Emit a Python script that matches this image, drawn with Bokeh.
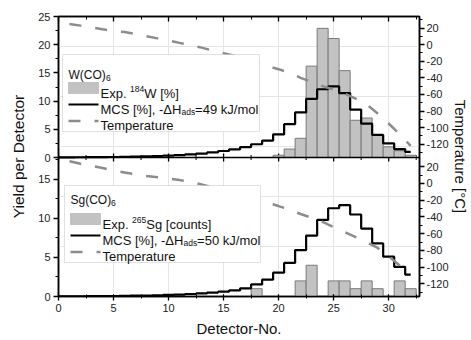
import numpy as np
from bokeh.plotting import figure
from bokeh.models import (Range1d, LinearAxis, SingleIntervalTicker, FixedTicker,
                          CustomJSTickFormatter, Label, BoxAnnotation, Arrow, Span)
from bokeh.embed import file_html
from bokeh.resources import INLINE

# ---------------- data ----------------
detectors = list(range(0, 33))
temp_detectors = list(range(1, 33))

w_exp_det = [19, 20, 21, 22, 23, 24, 25, 26, 27, 28, 29, 30, 31, 32]
w_exp = [0, 0.4, 1.5, 3.4, 16.2, 22.9, 21.1, 15.4, 6.6, 7.0, 4.0, 1.9, 1.2, 0.4]
w_mcs = [0.02, 0.03, 0.04, 0.05, 0.07, 0.09, 0.12, 0.15, 0.2, 0.26, 0.33, 0.43, 0.55,
         0.7, 0.9, 1.15, 1.45, 1.85, 2.35, 3.0, 4.1, 5.9, 8.0, 10.4, 12.1, 12.6, 11.4,
         8.5, 6.0, 4.0, 2.5, 1.5, 1.0]
w_temp = [25, 23, 20.8, 18.5, 16.8, 15.2, 12.8, 10.2, 7.6, 5, 2.2, -0.5, -3.5, -7,
          -10.3, -13.5, -17, -20.5, -26, -29.5, -34, -40, -45, -50, -54, -59, -65,
          -72, -83, -95, -108, -122]

sg_exp_det = [18, 22, 23, 25, 26, 27, 28, 29, 31, 32]
sg_exp = [1, 2, 4, 2, 2, 1, 2, 1, 2, 1]
sg_mcs = [0.02, 0.02, 0.03, 0.04, 0.05, 0.06, 0.08, 0.1, 0.13, 0.16, 0.2, 0.25, 0.32,
          0.4, 0.5, 0.62, 0.78, 1.05, 1.55, 2.15, 3.05, 4.3, 5.95, 7.8, 9.8, 11.3, 11.7,
          10.5, 8.7, 6.8, 5.1, 3.8, 2.8]
sg_temp = [26.5, 23.5, 21, 18.5, 15.5, 13, 11, 9, 7.5, 5.8, 4, 1.8, -1.2, -4.5, -8,
           -11.5, -15, -19, -23, -27, -31.5, -36.5, -41, -46, -52, -58, -64, -70, -77,
           -87, -98, -108]

# axis ranges of the two panels
x_max = 32.8
top_yield_max = 25
bot_yield_max = 17.8
top_temp_range = (-136, 34)
bot_temp_range = (-135, 31)
yield_ticks_top = [0, 5, 10, 15, 20, 25]
yield_ticks_bot = [0, 5, 10, 15]
temp_ticks = [-120, -100, -80, -60, -40, -20, 0, 20]

# ---------------- layout constants ----------------
FONT = "Liberation Sans"
BAR_FILL = "#c2c2c2"
BAR_LINE = "#7a7a7a"
TEMP_COLOR = "#8c8c8c"
DASH = "12 14"
W, H = 471, 340
LEFT, RIGHT, TOP, BOTTOM = 58, 46, 16, 44
FRAME_H = H - TOP - BOTTOM          # 280
SPLIT = 139                         # px of bottom panel (from frame bottom)
TOP_H = FRAME_H - SPLIT             # px of top panel

k_top = TOP_H / top_yield_max
k_bot = SPLIT / bot_yield_max
kT_top = TOP_H / (top_temp_range[1] - top_temp_range[0])
kT_bot = SPLIT / (bot_temp_range[1] - bot_temp_range[0])

p = figure(width=W, height=H, x_range=Range1d(0, x_max), y_range=Range1d(0, FRAME_H),
           output_backend="svg", toolbar_location=None,
           x_axis_location=None, y_axis_location=None,
           min_border_left=LEFT, min_border_right=RIGHT,
           min_border_top=TOP, min_border_bottom=BOTTOM)
p.extra_y_ranges = {
    "wy": Range1d(-SPLIT / k_top, top_yield_max),
    "sy": Range1d(0, FRAME_H / k_bot),
    "wt": Range1d(top_temp_range[0] - SPLIT / kT_top, top_temp_range[1]),
    "st": Range1d(bot_temp_range[0], bot_temp_range[0] + FRAME_H / kT_bot),
}
p.outline_line_color = "black"
p.outline_line_width = 1.5
p.background_fill_color = "white"
p.border_fill_color = "white"


def style_axis(ax, labels=True):
    ax.axis_line_width = 1.5
    ax.major_tick_line_width = 1.3
    ax.minor_tick_line_width = 1.0
    ax.major_label_text_font = FONT
    ax.major_label_text_font_size = "11px" if labels else "0px"
    ax.major_label_text_color = "#222222"
    ax.axis_label_text_font = FONT
    ax.axis_label_text_font_style = "normal"
    ax.axis_label_text_color = "#111111"


# x axes
ax_top = LinearAxis(ticker=SingleIntervalTicker(interval=5, num_minor_ticks=2),
                    formatter=CustomJSTickFormatter(code="return ''"))
style_axis(ax_top, labels=False)
ax_top.major_tick_in, ax_top.major_tick_out = 5, 0
ax_top.minor_tick_in, ax_top.minor_tick_out = 3, 0
ax_top.major_label_standoff = 0
p.add_layout(ax_top, "above")

ax_bot = LinearAxis(ticker=SingleIntervalTicker(interval=5, num_minor_ticks=2))
style_axis(ax_bot)
ax_bot.major_tick_in, ax_bot.major_tick_out = 2, 4
ax_bot.minor_tick_in, ax_bot.minor_tick_out = 2, 2
ax_bot.major_label_standoff = 3
ax_bot.axis_label = "Detector-No."
ax_bot.axis_label_text_font_size = "15px"
ax_bot.axis_label_standoff = 5
p.add_layout(ax_bot, "below")

# left (yield) axis covering both panels
left_major = [SPLIT + v * k_top for v in yield_ticks_top] + [v * k_bot for v in yield_ticks_bot]
left_minor = ([SPLIT + (v + 2.5) * k_top for v in yield_ticks_top[:-1]] +
              [(v + 2.5) * k_bot for v in yield_ticks_bot])
ax_l = LinearAxis(ticker=FixedTicker(ticks=left_major, minor_ticks=left_minor),
                  formatter=CustomJSTickFormatter(
                      args=dict(s=SPLIT, kt=k_top, kb=k_bot),
                      code="const v = tick >= s - 0.01 ? (tick - s) / kt : tick / kb;"
                           "return Math.round(v).toString();"))
style_axis(ax_l)
ax_l.major_tick_in, ax_l.major_tick_out = 0, 5
ax_l.minor_tick_in, ax_l.minor_tick_out = 0, 3
ax_l.major_label_standoff = 3
ax_l.axis_label = "Yield per Detector"
ax_l.axis_label_text_font_size = "15.5px"
ax_l.axis_label_standoff = 8
p.add_layout(ax_l, "left")

# right (temperature) axis covering both panels
right_major = ([SPLIT + (t - top_temp_range[0]) * kT_top for t in temp_ticks] +
               [(t - bot_temp_range[0]) * kT_bot for t in temp_ticks])
right_minor = ([SPLIT + (t - 10 - top_temp_range[0]) * kT_top for t in temp_ticks + [40]] +
               [(t - 10 - bot_temp_range[0]) * kT_bot for t in temp_ticks + [40]])
right_minor = [m for m in right_minor if 0 < m < FRAME_H and abs(m - SPLIT) > 2]
ax_r = LinearAxis(ticker=FixedTicker(ticks=right_major, minor_ticks=right_minor),
                  formatter=CustomJSTickFormatter(
                      args=dict(s=SPLIT, kt=kT_top, kb=kT_bot,
                                t0=top_temp_range[0], b0=bot_temp_range[0]),
                      code="const v = tick >= s - 0.01 ? (tick - s) / kt + t0 : tick / kb + b0;"
                           "return Math.round(v).toString();"))
style_axis(ax_r)
ax_r.major_tick_in, ax_r.major_tick_out = 0, 5
ax_r.minor_tick_in, ax_r.minor_tick_out = 0, 3
ax_r.major_label_standoff = 2
ax_r.axis_label = "Temperature [\u00b0C]"
ax_r.axis_label_text_font_size = "15px"
ax_r.axis_label_standoff = 0
p.add_layout(ax_r, "right")

# separator between the panels, with its ticks
p.add_layout(Span(location=SPLIT, dimension="width", line_color="black", line_width=1.5))
sep_major = np.arange(0, x_max, 5.0)
sep_minor = np.arange(2.5, x_max, 5.0)
p.segment(x0=sep_major, x1=sep_major, y0=SPLIT - 4, y1=SPLIT + 4, line_color="black",
          line_width=1.3)
p.segment(x0=sep_minor, x1=sep_minor, y0=SPLIT - 2.5, y1=SPLIT + 2.5, line_color="black",
          line_width=1.0)


def add_data(exp_det, exp_vals, mcs, temp, yname, tname):
    xs = [d for d, v in zip(exp_det, exp_vals) if v > 0]
    vs = [v for v in exp_vals if v > 0]
    p.vbar(x=xs, top=vs, bottom=0, width=1.0, fill_color=BAR_FILL, line_color=BAR_LINE,
           line_width=1, y_range_name=yname)
    p.step(x=detectors, y=mcs, mode="center", line_color="black", line_width=2.2,
           y_range_name=yname)
    p.line(x=temp_detectors, y=temp, y_range_name=tname, line_color=TEMP_COLOR,
           line_width=2.5, line_dash=DASH)


add_data(w_exp_det, w_exp, w_mcs, w_temp, "wy", "wt")
add_data(sg_exp_det, sg_exp, sg_mcs, sg_temp, "sy", "st")

FB = H - BOTTOM  # frame bottom, px from page top


def sx(gx):
    return gx - LEFT


def sy(gy):
    return FB - gy


def lab(gx, gy, text, size):
    p.add_layout(Label(x=sx(gx), y=sy(gy), x_units="screen", y_units="screen",
                       text=text, text_font=FONT, text_font_size=size,
                       text_color="#111111", text_align="left", text_baseline="alphabetic"))


def screen_box(l, r, t, b, fill, line):
    p.add_layout(BoxAnnotation(left=sx(l), right=sx(r), top=sy(t), bottom=sy(b),
                               left_units="screen", right_units="screen",
                               top_units="screen", bottom_units="screen",
                               fill_color=fill, fill_alpha=1.0,
                               line_color=line, line_width=1))


def screen_line(x0, x1, y, color, width, dash="solid"):
    p.add_layout(Arrow(end=None, x_start=sx(x0), y_start=sy(y), x_end=sx(x1), y_end=sy(y),
                       start_units="screen", end_units="screen",
                       line_color=color, line_width=width, line_dash=dash))


def add_legend(ox, box, title, title_dy, title_w, exp_sup, exp_post, dh):
    l, r, t, b = box
    screen_box(l, r, t, b, "white", "#9a9a9a")
    lab(68 + ox, t + title_dy, title, "12px")
    lab(68 + ox + title_w, t + title_dy + 3, "6", "8.5px")
    screen_box(68 + ox, 98 + ox, t + 28, t + 39, BAR_FILL, BAR_LINE)
    lab(100 + ox, t + 39, "Exp. ", "13px")
    lab(129.6 + ox, t + 34, exp_sup, "8.5px")
    lab(143.8 + ox, t + 39, exp_post, "13px")
    screen_line(68 + ox, 98 + ox, t + 50, "black", 2)
    lab(100 + ox, t + 54.5, "MCS [%], -\u0394H", "13px")
    lab(181 + ox, t + 57.5, "ads", "8.5px")
    lab(194.6 + ox, t + 54.5, dh, "13px")
    screen_line(68 + ox, 98 + ox, t + 66.5, TEMP_COLOR, 2.5, DASH)
    lab(100 + ox, t + 70.5, "Temperature", "13px")


add_legend(0, (62, 259, 54, 131), "W(CO)", 20, 37.5, "184", "W [%]", "=49 kJ/mol")
add_legend(2, (64, 260, 185, 262), "Sg(CO)", 14, 40.5, "265", "Sg [counts]", "=50 kJ/mol")

open("out.html", "w").write(file_html(p, INLINE))
